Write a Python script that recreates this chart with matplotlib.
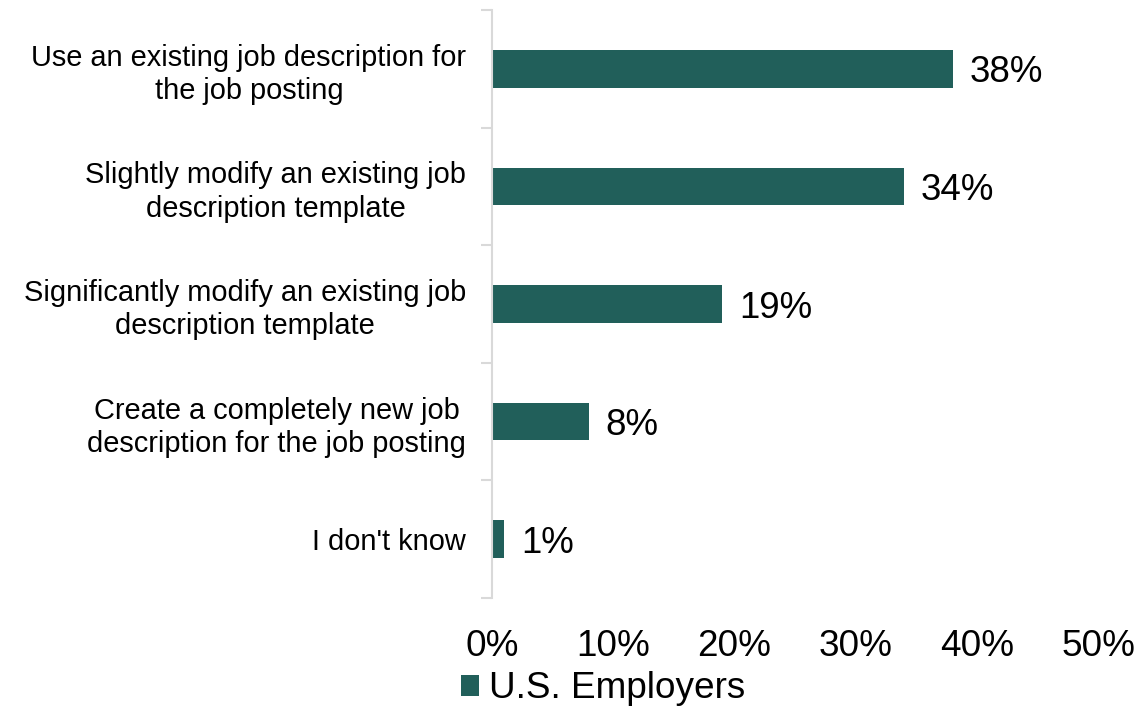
import matplotlib.pyplot as plt
from matplotlib.ticker import FixedLocator, PercentFormatter

plt.rcParams['font.family'] = ['Liberation Sans', 'DejaVu Sans']

categories = [
    "Use an existing job description for\nthe job posting",
    "Slightly modify an existing job\ndescription template",
    "Significantly modify an existing job\ndescription template",
    "Create a completely new job\ndescription for the job posting",
    "I don't know",
]
values = [38, 34, 19, 8, 1]
series_name = "U.S. Employers"

bar_color = "#215f5a"
grid_gray = "#d9d9d9"

fig = plt.figure(figsize=(11.35, 7.07), dpi=100)
ax = fig.add_axes([0.4335, 0.1542, 0.534, 0.8317])

pos = list(range(len(categories)))
bars = ax.barh(pos, values, height=0.32, color=bar_color, label=series_name)
ax.set_ylim(len(categories) - 0.5, -0.5)
ax.set_xlim(0, 50)

# value labels next to each bar
for p, v in zip(pos, values):
    ax.annotate(f"{v}%", (v, p), xytext=(12, -3), textcoords="offset points",
                va="center", ha="left", fontsize=26.4)

ax.set_yticks(pos)
ax.set_yticklabels(categories, fontsize=20.9, ha="right", multialignment="center",
                   linespacing=1.25)
ax.tick_params(axis="y", which="major", length=0, pad=18.5)
ax.yaxis.set_minor_locator(FixedLocator([p - 0.5 for p in range(len(categories) + 1)]))
ax.tick_params(axis="y", which="minor", length=8, width=1.5, color=grid_gray)

ax.set_xticks(range(0, 51, 10))
ax.xaxis.set_major_formatter(PercentFormatter(decimals=0))
ax.tick_params(axis="x", length=0, pad=22, labelsize=26.6)

for side in ["top", "right", "bottom"]:
    ax.spines[side].set_visible(False)
ax.spines["left"].set_color(grid_gray)
ax.spines["left"].set_linewidth(1.5)

fig.legend(handles=[bars], labels=[series_name], loc="center",
           bbox_to_anchor=(603 / 1135, 1 - 689 / 707), frameon=False,
           fontsize=26.6, handlelength=0.5, handleheight=0.5,
           handletextpad=0.25, borderpad=0)

fig.savefig("out.png", dpi=100)
